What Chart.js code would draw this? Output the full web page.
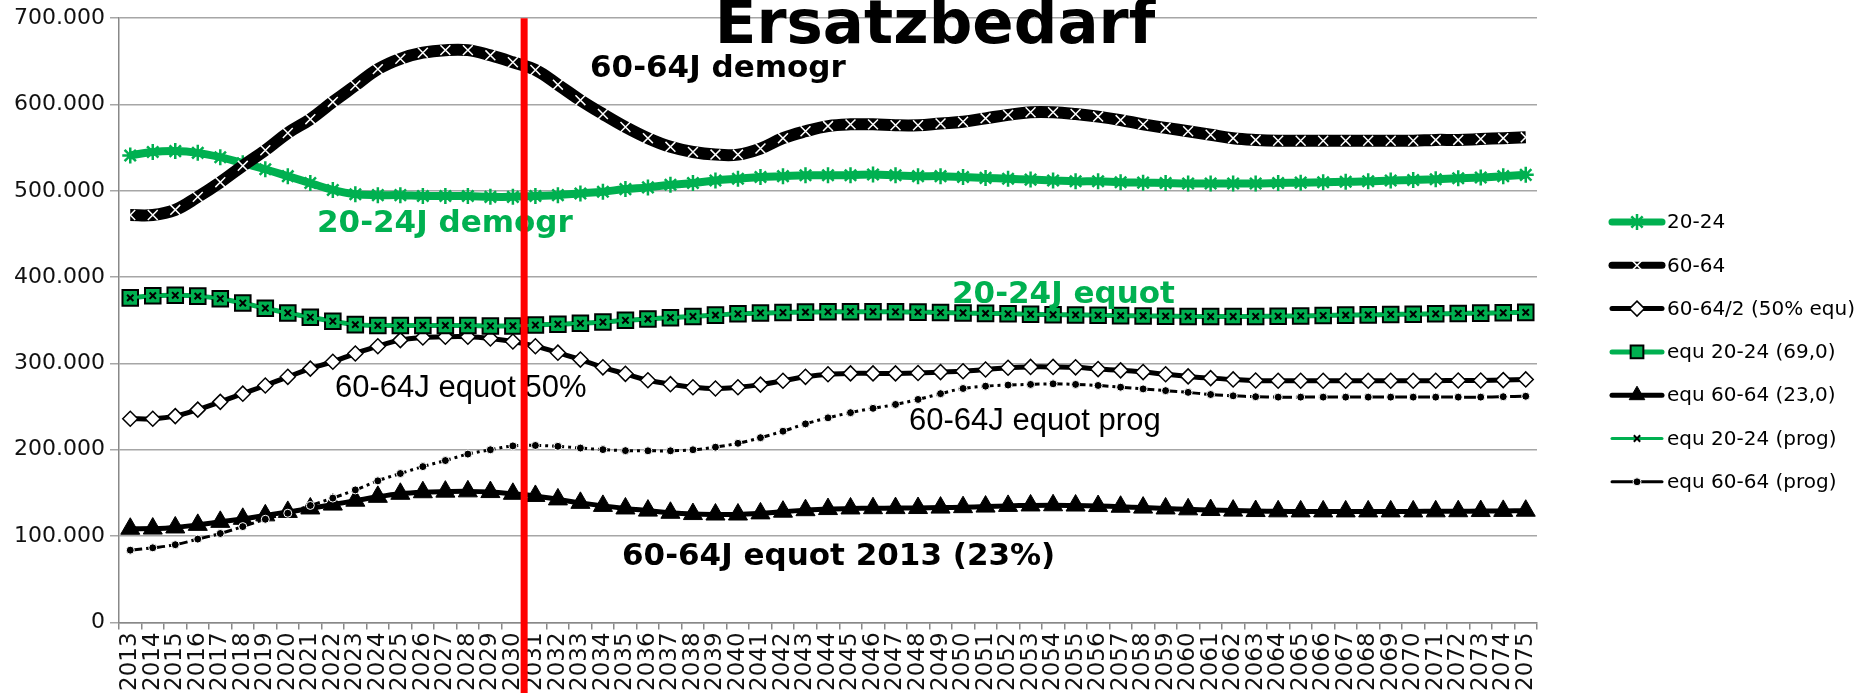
<!DOCTYPE html>
<html>
<head>
<meta charset="utf-8">
<script src="https://cdn.jsdelivr.net/npm/chart.js@4.4.1/dist/chart.umd.min.js"></script>
<style>
  html, body { margin: 0; padding: 0; background: #fff; overflow: hidden; }
  #wrap { width: 1865px; height: 693px; }
</style>
</head>
<body>
<div id="wrap"><canvas id="ersatzChart" width="1865" height="693"></canvas></div>
<script>
const years = [
  '2013','2014','2015','2016','2017','2018','2019','2020','2021','2022','2023','2024','2025','2026','2027','2028',
  '2029','2030','2031','2032','2033','2034','2035','2036','2037','2038','2039','2040','2041','2042','2043','2044',
  '2045','2046','2047','2048','2049','2050','2051','2052','2053','2054','2055','2056','2057','2058','2059','2060',
  '2061','2062','2063','2064','2065','2066','2067','2068','2069','2070','2071','2072','2073','2074','2075'
];

// 20-24 demografisch
const demogr2024 = [
  541000,545000,546000,544000,539000,532000,525000,517000,509000,501000,496000,495000,495000,494000,494000,494000,
  493000,493000,494000,495000,497000,499000,502000,504000,507000,509000,512000,514000,516000,517000,518000,518000,
  518000,519000,518000,517000,517000,516000,515000,514000,513000,512000,511000,511000,510000,509500,509000,508500,
  508500,508500,508500,509000,509500,510000,510500,511000,512000,512500,513500,514500,515500,517000,518500
];

// 60-64 demografisch
const demogr6064 = [
  472000,472000,478000,493000,510000,529000,547000,567000,583000,603000,622000,641000,653000,660000,663000,663000,
  657000,649000,640000,623000,605000,589000,574000,561000,551000,545000,542000,542000,549000,561000,569000,575000,
  577000,577000,576000,576000,578000,580000,584000,588000,591000,591000,589000,586000,582000,577000,573000,569000,
  565000,561000,559000,558000,558000,558000,558000,558000,558000,558000,559000,559000,560000,561000,562000
];

// 60-64 / 2 (50% equ)
const half6064 = [
  236000,236000,239000,246500,255500,265000,274500,284500,294000,302000,311500,320000,327000,330000,331000,331000,
  329000,325500,320000,312500,304500,295500,288000,280500,276000,272500,271000,272500,275500,280000,284500,287500,
  288500,288500,288500,289000,290000,291000,293000,295000,296000,296000,295500,293500,292000,290000,287500,285000,
  283000,281500,280300,280000,280000,280000,280000,280000,280000,280000,280000,280300,280300,280700,281500
];

// equ 20-24 (69,0)
const equ2024 = [
  376000,378500,379000,378000,375000,370000,364000,358500,353500,349000,345000,344000,344000,344000,344000,344000,
  343500,343500,344500,345500,346500,348000,350000,351500,353000,354500,356000,357500,358500,359000,359500,359800,
  360000,360000,359800,359500,359000,358500,358000,357500,357000,356500,356200,355800,355400,355000,354800,354500,
  354400,354400,354500,354800,355000,355500,356000,356300,356800,357100,357500,357900,358300,358700,359200
];

// equ 60-64 (23,0)
const equ6064 = [
  108500,108700,110000,113000,116500,120000,124000,128000,132000,136500,141000,145500,149000,150800,151500,151800,
  151000,149000,146500,142500,138500,135000,132000,129500,127000,125500,125000,125000,126300,128300,130000,131300,
  132000,132300,132400,132500,133000,133500,134200,135000,135500,135700,135400,134800,134000,133000,132000,131000,
  130200,129500,129000,128700,128600,128600,128600,128600,128600,128600,128700,128800,129000,129200,129400
];

// equ 20-24 (prog) - liegt auf equ 20-24 (69,0)
const prog2024 = [
  376000,378500,379000,378000,375000,370000,364000,358500,353500,349000,345000,344000,344000,344000,344000,344000,
  343500,343500,344500,345500,346500,348000,350000,351500,353000,354500,356000,357500,358500,359000,359500,359800,
  360000,360000,359800,359500,359000,358500,358000,357500,357000,356500,356200,355800,355400,355000,354800,354500,
  354400,354400,354500,354800,355000,355500,356000,356300,356800,357100,357500,357900,358300,358700,359200
];

// equ 60-64 (prog)
const prog6064 = [
  83700,86400,90000,96500,103000,111000,119500,126500,135500,144000,153500,164000,172500,180500,187500,195000,
  200000,204500,205000,204000,202000,200200,199000,198800,198800,200000,203000,207500,214000,221500,230000,237000,
  243000,248000,252500,258300,265000,271000,273700,275000,275700,276400,275700,274500,272500,270500,268500,266500,
  264000,262500,261500,261000,261000,261000,261000,261000,261000,261000,261000,261000,261000,261500,262000
];

const GREEN = '#00b050';

function fmtDE(v) {
    return String(v).replace(/\B(?=(\d{3})+(?!\d))/g, '.');
}

// Beschriftungen im Diagramm (wie Textfelder in der Vorlage)
const notes = [
    { text: 'Ersatzbedarf', x: 935, y: 43, align: 'center', color: '#000', font: 'bold 61px "DejaVu Sans"' },
    { text: '60-64J demogr', x: 590, y: 77, color: '#000', font: 'bold 31px "DejaVu Sans"' },
    { text: '20-24J demogr', x: 317, y: 232, color: GREEN, font: 'bold 31px "DejaVu Sans"' },
    { text: '20-24J equot', x: 952, y: 303, color: GREEN, font: 'bold 31px "DejaVu Sans"' },
    { text: '60-64J equot 50%', x: 335, y: 397, color: '#000', font: '31px "Liberation Sans"' },
    { text: '60-64J equot prog', x: 909, y: 430, color: '#000', font: '31px "Liberation Sans"' },
    { text: '60-64J equot 2013 (23%)', x: 622, y: 565, color: '#000', font: 'bold 31px "DejaVu Sans"' }
];

const notesPlugin = {
    id: 'notes',
    afterDatasetsDraw(chart) {
        const ctx = chart.ctx;
        ctx.save();
        ctx.textBaseline = 'alphabetic';
        notes.forEach(n => {
            ctx.font = n.font;
            ctx.fillStyle = n.color;
            ctx.textAlign = n.align || 'left';
            ctx.fillText(n.text, n.x, n.y);
        });
        ctx.restore();
    }
};

// rote Linie zwischen 2030 und 2031
const redLinePlugin = {
    id: 'redLine',
    afterDraw(chart) {
        const ctx = chart.ctx;
        const x = chart.scales.x.getPixelForValue(17.5);
        ctx.save();
        ctx.strokeStyle = '#ff0000';
        ctx.lineWidth = 7;
        ctx.beginPath();
        ctx.moveTo(x, chart.chartArea.top);
        ctx.lineTo(x, chart.height);
        ctx.stroke();
        ctx.restore();
    }
};

const legendPlugin = {
    id: 'sideLegend',
    afterDraw(chart) {
        const ctx = chart.ctx;
        const x0 = 1612, x1 = 1662, top = 222, step = 43.3;
        ctx.save();
        chart.data.datasets.forEach((ds, i) => {
            const y = top + i * step;
            ctx.strokeStyle = ds.borderColor;
            ctx.lineWidth = Math.min(ds.borderWidth, 7);
            ctx.lineCap = 'round';
            ctx.setLineDash([]);
            ctx.beginPath();
            ctx.moveTo(x0, y);
            ctx.lineTo(x1, y);
            ctx.stroke();
            ctx.lineCap = 'butt';
            ctx.fillStyle = ds.pointBackgroundColor;
            ctx.strokeStyle = ds.pointBorderColor;
            ctx.lineWidth = ds.pointBorderWidth;
            Chart.helpers.drawPoint(ctx, {
                pointStyle: ds.pointStyle,
                radius: Math.min(ds.pointRadius, 9),
                rotation: 0,
                borderWidth: ds.pointBorderWidth
            }, (x0 + x1) / 2, y);
            ctx.fillStyle = '#000';
            ctx.font = '20px "DejaVu Sans"';
            ctx.textAlign = 'left';
            ctx.textBaseline = 'middle';
            ctx.fillText(ds.label, x1 + 5, y + 1);
        });
        ctx.restore();
    }
};

const ctx = document.getElementById('ersatzChart');
new Chart(ctx, {
    type: 'line',
    data: {
        labels: years,
        datasets: [
            {
                label: '20-24', data: demogr2024, order: 7,
                borderColor: GREEN, borderWidth: 8, tension: 0.4,
                pointStyle: 'star', pointRadius: 8, pointBorderWidth: 2.5,
                pointBorderColor: GREEN, pointBackgroundColor: GREEN
            },
            {
                label: '60-64', data: demogr6064, order: 6,
                borderColor: '#000', borderWidth: 12, tension: 0.4,
                pointStyle: 'crossRot', pointRadius: 7, pointBorderWidth: 1.5,
                pointBorderColor: '#fff', pointBackgroundColor: '#fff'
            },
            {
                label: '60-64/2 (50% equ)', data: half6064, order: 5,
                borderColor: '#000', borderWidth: 5, tension: 0.4,
                pointStyle: 'rectRot', pointRadius: 7.5, pointBorderWidth: 1.5,
                pointBorderColor: '#000', pointBackgroundColor: '#fff'
            },
            {
                label: 'equ 20-24 (69,0)', data: equ2024, order: 4,
                borderColor: GREEN, borderWidth: 5, tension: 0.4,
                pointStyle: 'rect', pointRadius: 11, pointBorderWidth: 2,
                pointBorderColor: '#000', pointBackgroundColor: GREEN
            },
            {
                label: 'equ 60-64 (23,0)', data: equ6064, order: 3,
                borderColor: '#000', borderWidth: 5, tension: 0.4,
                pointStyle: 'triangle', pointRadius: 11, pointBorderWidth: 1,
                pointBorderColor: '#000', pointBackgroundColor: '#000'
            },
            {
                label: 'equ 20-24 (prog)', data: prog2024, order: 2,
                borderColor: GREEN, borderWidth: 3, tension: 0.4,
                pointStyle: 'crossRot', pointRadius: 4.5, pointBorderWidth: 2,
                pointBorderColor: '#000', pointBackgroundColor: '#000'
            },
            {
                label: 'equ 60-64 (prog)', data: prog6064, order: 1,
                borderColor: '#000', borderWidth: 3, tension: 0.4, borderDash: [12, 4, 3, 4],
                pointStyle: 'circle', pointRadius: 4, pointBorderWidth: 1,
                pointBorderColor: '#fff', pointBackgroundColor: '#000'
            }
        ]
    },
    options: {
        responsive: false,
        animation: false,
        devicePixelRatio: 1,
        layout: { padding: { top: 18, right: 328, left: 0, bottom: 0 } },
        plugins: {
            legend: { display: false },
            tooltip: { enabled: false },
            title: { display: false }
        },
        scales: {
            x: {
                type: 'category',
                offset: true,
                grid: { offset: true, drawOnChartArea: false, drawTicks: true, tickLength: 7, color: '#888', lineWidth: 1.5 },
                border: { display: true, color: '#888', width: 1.5 },
                ticks: {
                    autoSkip: false, minRotation: 90, maxRotation: 90, padding: 3,
                    color: '#111', font: { family: 'DejaVu Sans', size: 23 }
                },
                afterFit: s => { s.height = 70.6; }
            },
            y: {
                min: 0, max: 700000,
                ticks: {
                    stepSize: 100000, padding: 5, color: '#111',
                    font: { family: 'DejaVu Sans', size: 22 },
                    callback: v => fmtDE(v)
                },
                grid: { color: '#a6a6a6', lineWidth: 1.5, tickLength: 9 },
                border: { color: '#888', width: 1.5 },
                afterFit: s => { s.width = 119; }
            }
        }
    },
    plugins: [notesPlugin, redLinePlugin, legendPlugin]
});
</script>
</body>
</html>
